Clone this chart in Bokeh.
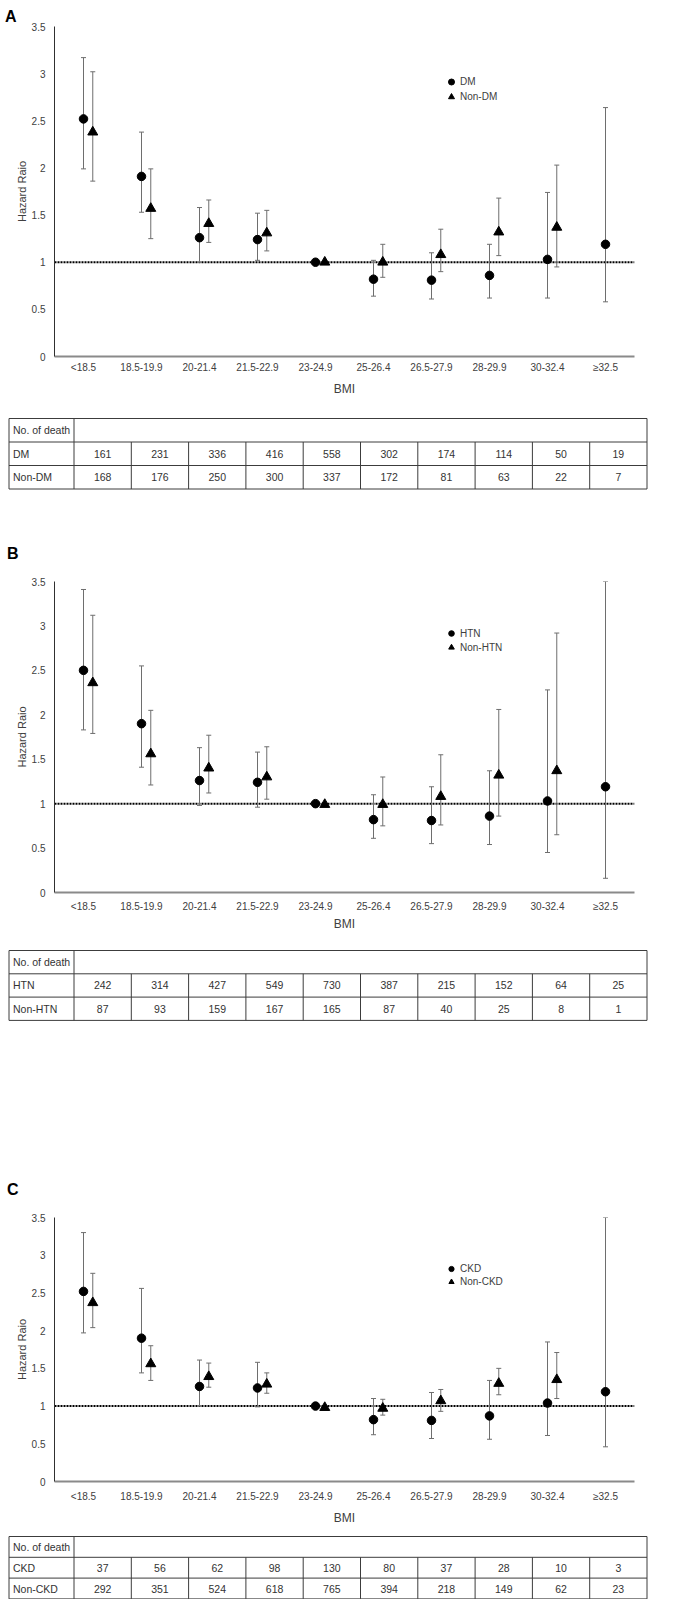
import math
from bokeh.plotting import figure
from bokeh.models import (ColumnDataSource, Whisker, TeeHead, Span, Legend, LegendItem,
                          FixedTicker, Range1d)
from bokeh.layouts import column
from bokeh.embed import file_html
from bokeh.resources import INLINE
from bokeh.core.properties import value

nan = float("nan")

# ---------------- data ----------------
categories = ["<18.5", "18.5-19.9", "20-21.4", "21.5-22.9", "23-24.9",
              "25-26.4", "26.5-27.9", "28-29.9", "30-32.4", "\u226532.5"]
y_ticks = [0, 0.5, 1, 1.5, 2, 2.5, 3, 3.5]
y_tick_labels = ["0", "0.5", "1", "1.5", "2", "2.5", "3", "3.5"]
panel_letters = ["A", "B", "C"]

# Panel A : DM / Non-DM
dm_hr = [2.52, 1.91, 1.26, 1.24, 1.00, 0.82, 0.81, 0.86, 1.03, 1.19]
dm_lo = [1.99, 1.53, 1.00, 1.02, 1.00, 0.64, 0.61, 0.62, 0.62, 0.58]
dm_hi = [3.17, 2.38, 1.58, 1.52, 1.00, 1.02, 1.10, 1.19, 1.74, 2.64]
nondm_hr = [2.38, 1.57, 1.41, 1.31, 1.00, 1.00, 1.08, 1.32, 1.37, nan]
nondm_lo = [1.86, 1.25, 1.21, 1.12, 1.00, 0.84, 0.90, 1.07, 0.95, nan]
nondm_hi = [3.02, 1.99, 1.66, 1.55, 1.00, 1.19, 1.35, 1.68, 2.03, nan]

# Panel B : HTN / Non-HTN
htn_hr = [2.50, 1.90, 1.26, 1.24, 1.00, 0.82, 0.81, 0.86, 1.03, 1.19]
htn_lo = [1.83, 1.41, 0.98, 0.96, 1.00, 0.61, 0.55, 0.54, 0.45, 0.16]
htn_hi = [3.41, 2.55, 1.63, 1.58, 1.00, 1.10, 1.19, 1.37, 2.28, 3.50]
nonhtn_hr = [2.36, 1.56, 1.40, 1.30, 0.99, 0.99, 1.08, 1.32, 1.37, nan]
nonhtn_lo = [1.79, 1.21, 1.12, 1.05, 0.99, 0.75, 0.76, 0.86, 0.65, nan]
nonhtn_hi = [3.12, 2.05, 1.77, 1.64, 0.99, 1.30, 1.55, 2.06, 2.92, nan]

# Panel C : CKD / Non-CKD
ckd_hr = [2.52, 1.90, 1.26, 1.24, 1.00, 0.82, 0.81, 0.87, 1.04, 1.19]
ckd_lo = [1.97, 1.44, 1.00, 0.99, 1.00, 0.62, 0.57, 0.56, 0.61, 0.46]
ckd_hi = [3.30, 2.56, 1.61, 1.58, 1.00, 1.10, 1.18, 1.34, 1.85, 3.50]
nonckd_hr = [2.37, 1.56, 1.39, 1.29, 0.98, 0.97, 1.07, 1.30, 1.35, nan]
nonckd_lo = [2.04, 1.34, 1.25, 1.17, 0.98, 0.88, 0.93, 1.15, 1.10, nan]
nonckd_hi = [2.76, 1.80, 1.57, 1.44, 0.98, 1.09, 1.22, 1.50, 1.71, nan]

# Number of deaths tables
table_header = "No. of death"
dm_deaths = [161, 231, 336, 416, 558, 302, 174, 114, 50, 19]
nondm_deaths = [168, 176, 250, 300, 337, 172, 81, 63, 22, 7]
htn_deaths = [242, 314, 427, 549, 730, 387, 215, 152, 64, 25]
nonhtn_deaths = [87, 93, 159, 167, 165, 87, 40, 25, 8, 1]
ckd_deaths = [37, 56, 62, 98, 130, 80, 37, 28, 10, 3]
nonckd_deaths = [292, 351, 524, 618, 765, 394, 218, 149, 62, 23]

# ---------------- styling ----------------
FONT = "Liberation Sans"
TXT = "#404040"
ERR = "#6e6e6e"
W = 660
DODGE = 0.16


def series_source(hr, lo, hi, offset):
    idx = [i for i in range(len(hr)) if not math.isnan(hr[i])]
    return ColumnDataSource(dict(
        x=[i + offset for i in idx],
        hr=[hr[i] for i in idx],
        lo=[lo[i] for i in idx],
        hi=[hi[i] for i in idx],
    ))


def pixel_figure(height):
    f = figure(width=W, height=height, x_range=Range1d(0, W), y_range=Range1d(height, 0),
               output_backend="svg", toolbar_location=None, min_border=0,
               x_axis_location=None, y_axis_location=None)
    f.frame_align = False
    f.outline_line_color = None
    f.grid.visible = False
    return f


def add_letter(f, letter, x, y):
    f.text(x=[x], y=[y], text=[letter], text_font=value(FONT), text_font_size="16px",
           text_font_style="bold", text_color="black", text_align="left",
           text_baseline="alphabetic")


def make_plot(s1, s2, names, height, border_top, legend_loc, item_h,
              tick_standoff, label_standoff, title=None):
    p = figure(width=W, height=height, x_range=Range1d(-0.5, 9.5), y_range=Range1d(0, 3.5),
               output_backend="svg", toolbar_location=None,
               min_border_left=54, min_border_right=W - 634, min_border_top=border_top,
               min_border_bottom=49)
    p.frame_align = False
    p.outline_line_color = None
    p.grid.visible = False
    if title is not None:
        p.title.text = title
        p.title.align = "left"
        p.title.offset = -49.5
        p.title.standoff = 4
        p.title.text_font = FONT
        p.title.text_font_size = "16px"
        p.title.text_font_style = "bold"
        p.title.text_color = "black"

    # axes
    p.xaxis.ticker = FixedTicker(ticks=list(range(len(categories))))
    p.xaxis.major_label_overrides = {i: c for i, c in enumerate(categories)}
    p.yaxis.ticker = FixedTicker(ticks=y_ticks)
    p.yaxis.major_label_overrides = {t: l for t, l in zip(y_ticks, y_tick_labels)}
    for ax in (p.xaxis, p.yaxis):
        ax.major_tick_line_color = None
        ax.minor_tick_line_color = None
        ax.major_tick_out = 0
        ax.major_tick_in = 0
        ax.major_label_text_font = FONT
        ax.major_label_text_font_size = "10px"
        ax.major_label_text_color = TXT
        ax.axis_label_text_font = FONT
        ax.axis_label_text_font_style = "normal"
        ax.axis_label_text_color = TXT
    p.xaxis.axis_line_color = "#8a8a8a"
    p.xaxis.axis_line_width = 2
    p.xaxis.major_label_standoff = tick_standoff
    p.xaxis.axis_label = "BMI"
    p.xaxis.axis_label_text_font_size = "12px"
    p.xaxis.axis_label_standoff = label_standoff
    p.yaxis.axis_line_color = "#303030"
    p.yaxis.axis_line_width = 1
    p.yaxis.major_label_standoff = 9
    p.yaxis.axis_label = "Hazard Raio"
    p.yaxis.axis_label_text_font_size = "11px"
    p.yaxis.axis_label_standoff = 1

    # reference line at HR = 1
    p.add_layout(Span(location=1, dimension="width", line_color="black",
                      line_dash="2 1", line_width=2, level="underlay"))

    renderers = []
    for src, marker, size in ((s1, "circle", 8.5), (s2, "triangle", 10)):
        wk = Whisker(source=src, base="x", upper="hi", lower="lo", line_color=ERR,
                     line_width=1, level="underlay",
                     upper_head=TeeHead(size=5, line_color=ERR, line_width=1),
                     lower_head=TeeHead(size=5, line_color=ERR, line_width=1))
        p.add_layout(wk)
        r = p.scatter("x", "hr", source=src, marker=marker, size=size,
                      fill_color="black", line_color="black")
        renderers.append(r)

    legend = Legend(items=[LegendItem(label=names[0], renderers=[renderers[0]]),
                           LegendItem(label=names[1], renderers=[renderers[1]])],
                    location=legend_loc, glyph_width=16, glyph_height=item_h,
                    label_height=item_h, label_standoff=1, spacing=0, padding=0, margin=0,
                    border_line_color=None, background_fill_alpha=0,
                    label_text_font=FONT, label_text_font_size="10px",
                    label_text_color=TXT)
    p.add_layout(legend)
    return p


def make_table(row_labels, rows, height, top, row_h, font_size, letter=None):
    t = pixel_figure(height)
    left, label_right, right = 8.5, 73.5, 646.5
    ncol = len(categories)
    col_w = (right - label_right) / ncol
    nrows = 1 + len(rows)
    bottom = top + nrows * row_h

    x0, y0, x1, y1 = [], [], [], []
    for k in range(nrows + 1):
        x0.append(left); x1.append(right); y0.append(top + k * row_h); y1.append(top + k * row_h)
    for xv in (left, label_right, right):
        x0.append(xv); x1.append(xv); y0.append(top); y1.append(bottom)
    for k in range(1, ncol):
        xv = label_right + k * col_w
        x0.append(xv); x1.append(xv); y0.append(top + row_h); y1.append(bottom)
    t.segment(x0=x0, y0=y0, x1=x1, y1=y1, line_color="#3c3c3c", line_width=1)

    labels = [table_header] + row_labels
    t.text(x=[left + 4] * len(labels), y=[top + (k + 0.5) * row_h for k in range(nrows)],
           text=labels, text_font=value(FONT), text_font_size=font_size,
           text_align="left", text_baseline="middle", text_color="#333333")

    xs, ys, txt = [], [], []
    for r, vals in enumerate(rows):
        for c, v in enumerate(vals):
            xs.append(label_right + (c + 0.5) * col_w)
            ys.append(top + (r + 1.5) * row_h)
            txt.append(str(v))
    t.text(x=xs, y=ys, text=txt, text_font=value(FONT), text_font_size=font_size,
           text_align="center", text_baseline="middle", text_color="#333333")
    if letter is not None:
        add_letter(t, *letter)
    return t


pa = make_plot(series_source(dm_hr, dm_lo, dm_hi, 0),
               series_source(nondm_hr, nondm_lo, nondm_hi, DODGE),
               ("DM", "Non-DM"), 405, 26, (389, 252), 15, 5, 6, title=panel_letters[0])
ta = make_table(["DM", "Non-DM"], [dm_deaths, nondm_deaths], 165, 13, 23.5, "10.5px",
                letter=(panel_letters[1], 6.5, 147.5))
pb = make_plot(series_source(htn_hr, htn_lo, htn_hi, 0),
               series_source(nonhtn_hr, nonhtn_lo, nonhtn_hi, DODGE),
               ("HTN", "Non-HTN"), 371, 11, (389, 238), 14, 8, 2)
tb = make_table(["HTN", "Non-HTN"], [htn_deaths, nonhtn_deaths], 264, 9, 23.3, "10.5px",
                letter=(panel_letters[2], 6.5, 248))
pc = make_plot(series_source(ckd_hr, ckd_lo, ckd_hi, 0),
               series_source(nonckd_hr, nonckd_lo, nonckd_hi, DODGE),
               ("CKD", "Non-CKD"), 325, 12, (389, 193), 13, 9, 6)
tc = make_table(["CKD", "Non-CKD"], [ckd_deaths, nonckd_deaths], 69, 6, 20.8, "10.5px")

layout = column(pa, ta, pb, tb, pc, tc, spacing=0)
open("out.html", "w").write(file_html(layout, INLINE))
